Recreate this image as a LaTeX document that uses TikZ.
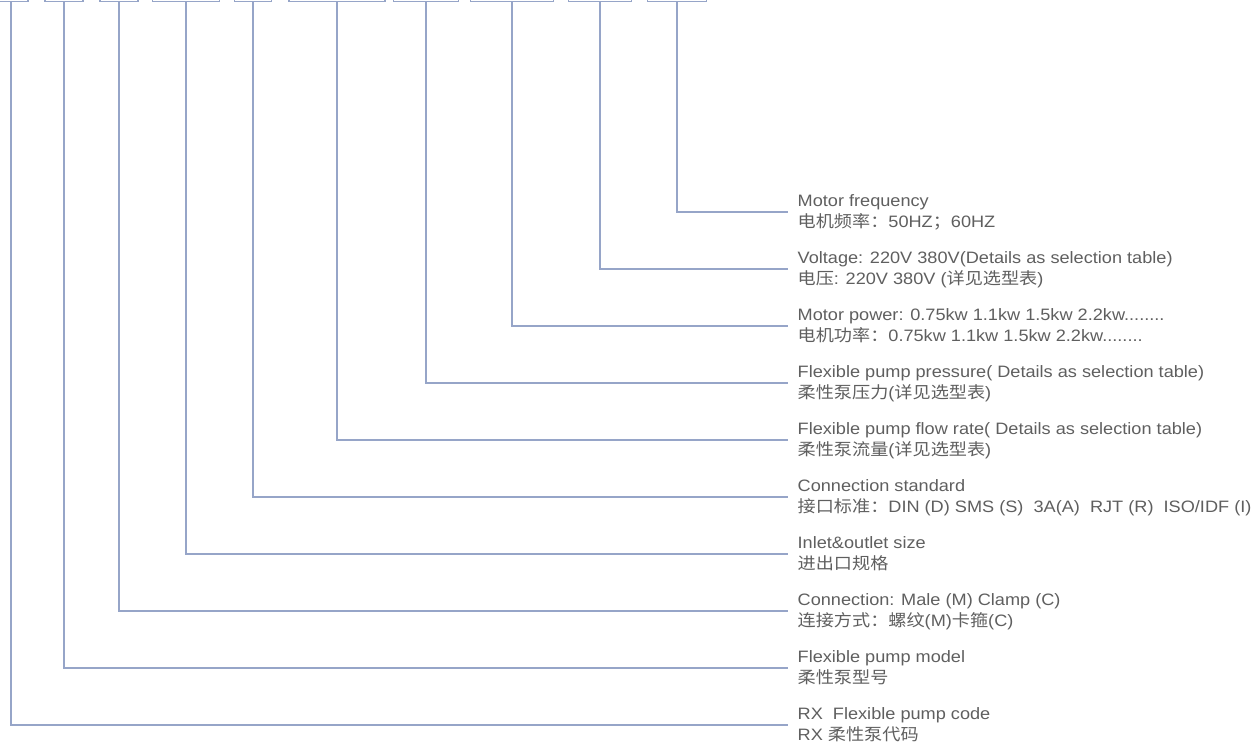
\documentclass[tikz,border=0pt]{standalone}
\usepackage{fontspec}
\setmainfont{Liberation Sans}[FakeStretch=1.1]
\newfontfamily\cjk{Noto Sans CJK SC}[FakeStretch=1.1]
\usetikzlibrary{positioning}
\definecolor{linec}{RGB}{150,165,200}
\definecolor{textc}{RGB}{95,95,95}

\begin{document}
\begin{tikzpicture}[x=1pt,y=1pt,line width=1.3pt,
  code box/.style={draw=linec,anchor=south,minimum height=40pt,inner sep=0pt},
  note node/.style={anchor=west,align=left,inner xsep=9pt,inner ysep=0pt,
    text height=33pt,text depth=1pt,text=textc,font=\fontsize{16.5}{21}\selectfont}]

  \useasboundingbox (0,0) rectangle (1252,746);
  \clip (0,0) rectangle (1252,746);

  % code boxes, cut off by the top edge
  \node[code box,minimum width=34pt] (1) at (11,744) {};
  \node[code box,minimum width=38pt] (2) at (64,744) {};
  \node[code box,minimum width=38pt] (3) at (119,744) {};
  \node[code box,minimum width=67pt] (4) at (186,744) {};
  \node[code box,minimum width=37pt] (5) at (253,744) {};
  \node[code box,minimum width=96pt] (6) at (337,744) {};
  \node[code box,minimum width=65pt] (7) at (426,744) {};
  \node[code box,minimum width=83pt] (8) at (512,744) {};
  \node[code box,minimum width=63pt] (9) at (600,744) {};
  \node[code box,minimum width=59pt] (10) at (677,744) {};

  % notes
  \node[note node] (l10) at (788,534) {Motor frequency\\{\cjk 电机频率：}50HZ{\cjk ；}60HZ};
  \node[note node,below=57pt of l10.west,anchor=west] (l9) {Voltage: 220V 380V(Details as selection table)\\{\cjk 电压}: 220V 380V ({\cjk 详见选型表})};
  \node[note node,below=57pt of l9.west,anchor=west] (l8) {Motor power: 0.75kw 1.1kw 1.5kw 2.2kw........\\{\cjk 电机功率：}0.75kw 1.1kw 1.5kw 2.2kw........};
  \node[note node,below=57pt of l8.west,anchor=west] (l7) {Flexible pump pressure( Details as selection table)\\{\cjk 柔性泵压力}({\cjk 详见选型表})};
  \node[note node,below=57pt of l7.west,anchor=west] (l6) {Flexible pump flow rate( Details as selection table)\\{\cjk 柔性泵流量}({\cjk 详见选型表})};
  \node[note node,below=57pt of l6.west,anchor=west] (l5) {Connection standard\\{\cjk 接口标准：}DIN (D) SMS (S)~ 3A(A)~ RJT (R)~ ISO/IDF (I)};
  \node[note node,below=57pt of l5.west,anchor=west] (l4) {Inlet\&outlet size\\{\cjk 进出口规格}};
  \node[note node,below=57pt of l4.west,anchor=west] (l3) {Connection: Male (M) Clamp (C)\\{\cjk 连接方式：螺纹}(M){\cjk 卡箍}(C)};
  \node[note node,below=57pt of l3.west,anchor=west] (l2) {Flexible pump model\\{\cjk 柔性泵型号}};
  \node[note node,below=57pt of l2.west,anchor=west] (l1) {RX~ Flexible pump code\\RX {\cjk 柔性泵代码}};

  \draw[linec] (1.south) |- (l1.west);
  \draw[linec] (2.south) |- (l2.west);
  \draw[linec] (3.south) |- (l3.west);
  \draw[linec] (4.south) |- (l4.west);
  \draw[linec] (5.south) |- (l5.west);
  \draw[linec] (6.south) |- (l6.west);
  \draw[linec] (7.south) |- (l7.west);
  \draw[linec] (8.south) |- (l8.west);
  \draw[linec] (9.south) |- (l9.west);
  \draw[linec] (10.south) |- (l10.west);
\end{tikzpicture}
\end{document}
